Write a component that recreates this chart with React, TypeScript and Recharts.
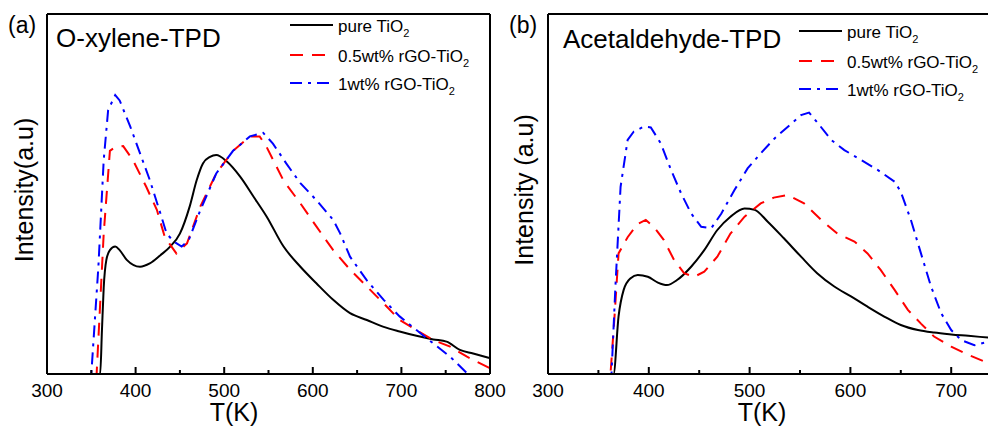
import { LineChart, Line, XAxis, YAxis, ReferenceLine } from "recharts";

const FONT = '"Liberation Sans", Arial, sans-serif';

// x axis ticks (K), labels only on the hundreds
const X_TICKS = [300, 350, 400, 450, 500, 550, 600, 650, 700, 750, 800];

// (a) O-xylene-TPD
const aPureT = [300, 360, 362, 364, 367, 371, 377, 382, 390, 405, 416, 428, 439, 450, 461, 469, 476, 484, 491, 503, 518, 533, 548, 567, 586, 604, 623, 642, 661, 680, 698, 717, 736, 751, 766, 781, 800];
const aPureV = [0, 0, 12, 24, 31.7, 34.4, 35.4, 34.4, 31.7, 29.8, 30.7, 33, 35.4, 39, 46.5, 53.9, 58.5, 60.3, 60.8, 59, 54.8, 49.3, 43.7, 35.4, 29.8, 25.2, 20.6, 16.9, 15, 13.1, 11.8, 10.6, 9.6, 9, 6.7, 5.7, 4.4];

const aHalfT = [300, 356, 364, 371, 377, 386, 397, 412, 424, 433, 446, 458, 473, 491, 510, 529, 540, 548, 567, 586, 604, 623, 642, 661, 680, 698, 717, 736, 755, 774, 800];
const aHalfV = [0, 0, 39, 62, 63, 63.3, 59.4, 52, 45.6, 38, 33.5, 36.3, 46.5, 55.7, 62, 66, 66, 63, 53.7, 47.4, 41, 34.4, 29, 24.3, 19.6, 15, 12.2, 9.4, 7.6, 4.8, 1.6];

const aOneT = [300, 350, 358, 364, 369, 377, 382, 394, 405, 416, 428, 435, 443, 452, 460, 473, 491, 510, 529, 544, 555, 570, 586, 604, 623, 631, 642, 661, 680, 698, 717, 736, 755, 775];
const aOneV = [0, 0, 29.8, 59.4, 73.3, 77.5, 76, 68.7, 61.3, 53.9, 44.6, 39, 36.8, 35.4, 37.2, 45.5, 55.7, 62, 66, 67, 64, 58.5, 53, 48.3, 42.8, 39, 32.6, 26, 20.6, 16, 12.2, 8.5, 4.8, 0];

// (b) Acetaldehyde-TPD
const bPureT = [300, 365, 370, 375, 382, 389, 399, 409, 418, 428, 442, 455, 468, 481, 495, 505, 518, 534, 551, 567, 584, 601, 617, 634, 650, 667, 683, 700, 717, 737, 770, 800];
const bPureV = [0, 0, 16, 23.3, 26.6, 27.5, 27, 25.4, 24.7, 26.1, 29.8, 34.4, 40, 43.7, 46, 45.6, 42.3, 37.7, 32.6, 28, 24.3, 21.5, 18.7, 15.9, 13.6, 12.2, 11.5, 11, 10.6, 10.1, 9.3, 8.6];

const bHalfT = [300, 362, 366, 370, 379, 389, 397, 405, 415, 425, 435, 445, 455, 468, 481, 495, 511, 524, 538, 554, 571, 587, 604, 617, 630, 644, 657, 670, 683, 700, 717, 737, 770, 800];
const bHalfV = [0, 0, 16, 33.5, 38, 41.7, 42.8, 40.9, 37.2, 31.7, 28, 27, 28.4, 32.6, 39, 43.7, 47.4, 49, 49.7, 47.4, 42.8, 39, 36.8, 33.5, 28.9, 23.3, 17.8, 14, 10.4, 7.6, 5.3, 3, 1, 0];

const bOneT = [300, 363, 367, 372, 379, 385, 395, 402, 412, 422, 432, 442, 452, 462, 472, 485, 498, 511, 525, 538, 551, 559, 568, 581, 594, 611, 627, 644, 650, 660, 670, 680, 690, 700, 710, 723, 737, 770, 800];
const bOneV = [0, 0, 25, 52, 65, 67.3, 68.7, 68.5, 64, 56.7, 50.2, 44.6, 40.9, 40.5, 44.6, 51.1, 57.1, 61.3, 65.5, 68.7, 71.9, 72.6, 69.6, 65, 62.2, 59.4, 56.7, 53.4, 50.6, 42.8, 33.5, 24.3, 16.9, 12.2, 9.4, 8, 9, 10, 10];

const toPoints = (t: number[], v: number[]) => t.map((x, i) => ({ t: x, v: v[i] }));

type Series = {
  key: string;
  label: string;
  color: string;
  dash?: string;
  curve: "monotone" | "linear";
  data: { t: number; v: number }[];
};

const makeSeries = (pure: { t: number; v: number }[], half: { t: number; v: number }[], one: { t: number; v: number }[]): Series[] => [
  { key: "pure", label: "pure TiO", color: "#000000", curve: "monotone", data: pure },
  { key: "half", label: "0.5wt% rGO-TiO", color: "#ff0000", dash: "13 9", curve: "linear", data: half },
  { key: "one", label: "1wt% rGO-TiO", color: "#0000ff", dash: "12 6 3 6", curve: "linear", data: one },
];

const seriesA = makeSeries(toPoints(aPureT, aPureV), toPoints(aHalfT, aHalfV), toPoints(aOneT, aOneV));
const seriesB = makeSeries(toPoints(bPureT, bPureV), toPoints(bHalfT, bHalfV), toPoints(bOneT, bOneV));

const axisLine = { stroke: "#000", strokeWidth: 2 };

function XTick(props: any) {
  const { x, y, payload } = props;
  const major = payload.value % 100 === 0;
  return (
    <g>
      <line x1={x} x2={x} y1={y} y2={y - (major ? 7 : 4)} stroke="#000" strokeWidth={2} />
      {major && (
        <text x={x} y={y + 23} textAnchor="middle" fontSize={19} fontFamily={FONT} fill="#000">
          {payload.value}
        </text>
      )}
    </g>
  );
}

function Panel({
  series,
  width,
  marginLeft,
  marginRight,
  rightBorder,
}: {
  series: Series[];
  width: number;
  marginLeft: number;
  marginRight: number;
  rightBorder: boolean;
}) {
  return (
    <LineChart width={width} height={429} margin={{ top: 14, left: marginLeft, right: marginRight, bottom: 0 }}>
      <XAxis
        type="number"
        dataKey="t"
        domain={[300, 800]}
        ticks={X_TICKS}
        interval={0}
        allowDataOverflow
        height={55}
        tickLine={false}
        tickSize={0}
        tickMargin={0}
        tick={<XTick />}
        axisLine={axisLine}
      />
      <YAxis type="number" domain={[0, 100]} allowDataOverflow width={1} tick={false} tickLine={false} axisLine={axisLine} />
      <ReferenceLine y={100} stroke="#000" strokeWidth={2} />
      {rightBorder && <ReferenceLine x={800} stroke="#000" strokeWidth={2} />}
      {series.map((s) => (
        <Line
          key={s.key}
          data={s.data}
          dataKey="v"
          type={s.curve}
          stroke={s.color}
          strokeWidth={2}
          strokeDasharray={s.dash}
          dot={false}
          activeDot={false}
          isAnimationActive={false}
        />
      ))}
    </LineChart>
  );
}

function Legend({ series, x0, x1, rows }: { series: Series[]; x0: number; x1: number; rows: number[] }) {
  return (
    <g>
      {series.map((s, i) => (
        <g key={s.key}>
          <line x1={x0} x2={x1} y1={rows[i]} y2={rows[i]} stroke={s.color} strokeWidth={2} strokeDasharray={s.dash} />
          <text x={x1 + 5} y={rows[i] + 7} fontSize={17} fontFamily={FONT} fill="#000">
            {s.label}
            <tspan dy={5} fontSize={11}>2</tspan>
          </text>
        </g>
      ))}
    </g>
  );
}

export default function App() {
  return (
    <div style={{ position: "absolute", left: 0, top: 0, width: 988, height: 429, overflow: "hidden", background: "#fff" }}>
      <div style={{ position: "absolute", left: 500, top: 0 }}>
        <Panel series={seriesB} width={600} marginLeft={47} marginRight={48} rightBorder={false} />
      </div>
      <div style={{ position: "absolute", left: 0, top: 0 }}>
        <Panel series={seriesA} width={530} marginLeft={46} marginRight={40} rightBorder />
      </div>
      <svg width={988} height={429} style={{ position: "absolute", left: 0, top: 0, pointerEvents: "none" }} fontFamily={FONT}>
        <text x={8} y={33} fontSize={23}>(a)</text>
        <text x={509} y={33} fontSize={23}>(b)</text>
        <text x={56} y={47} fontSize={26}>O-xylene-TPD</text>
        <text x={563} y={48} fontSize={26}>Acetaldehyde-TPD</text>
        <text transform="translate(33,190) rotate(-90)" textAnchor="middle" fontSize={25}>Intensity(a.u)</text>
        <text transform="translate(533,190) rotate(-90)" textAnchor="middle" fontSize={25}>Intensity (a.u)</text>
        <text x={234} y={421} textAnchor="middle" fontSize={25}>T(K)</text>
        <text x={762} y={421} textAnchor="middle" fontSize={25}>T(K)</text>
        <Legend series={seriesA} x0={290} x1={333} rows={[25, 55, 83]} />
        <Legend series={seriesB} x0={799} x1={842} rows={[31, 61, 89]} />
      </svg>
    </div>
  );
}
